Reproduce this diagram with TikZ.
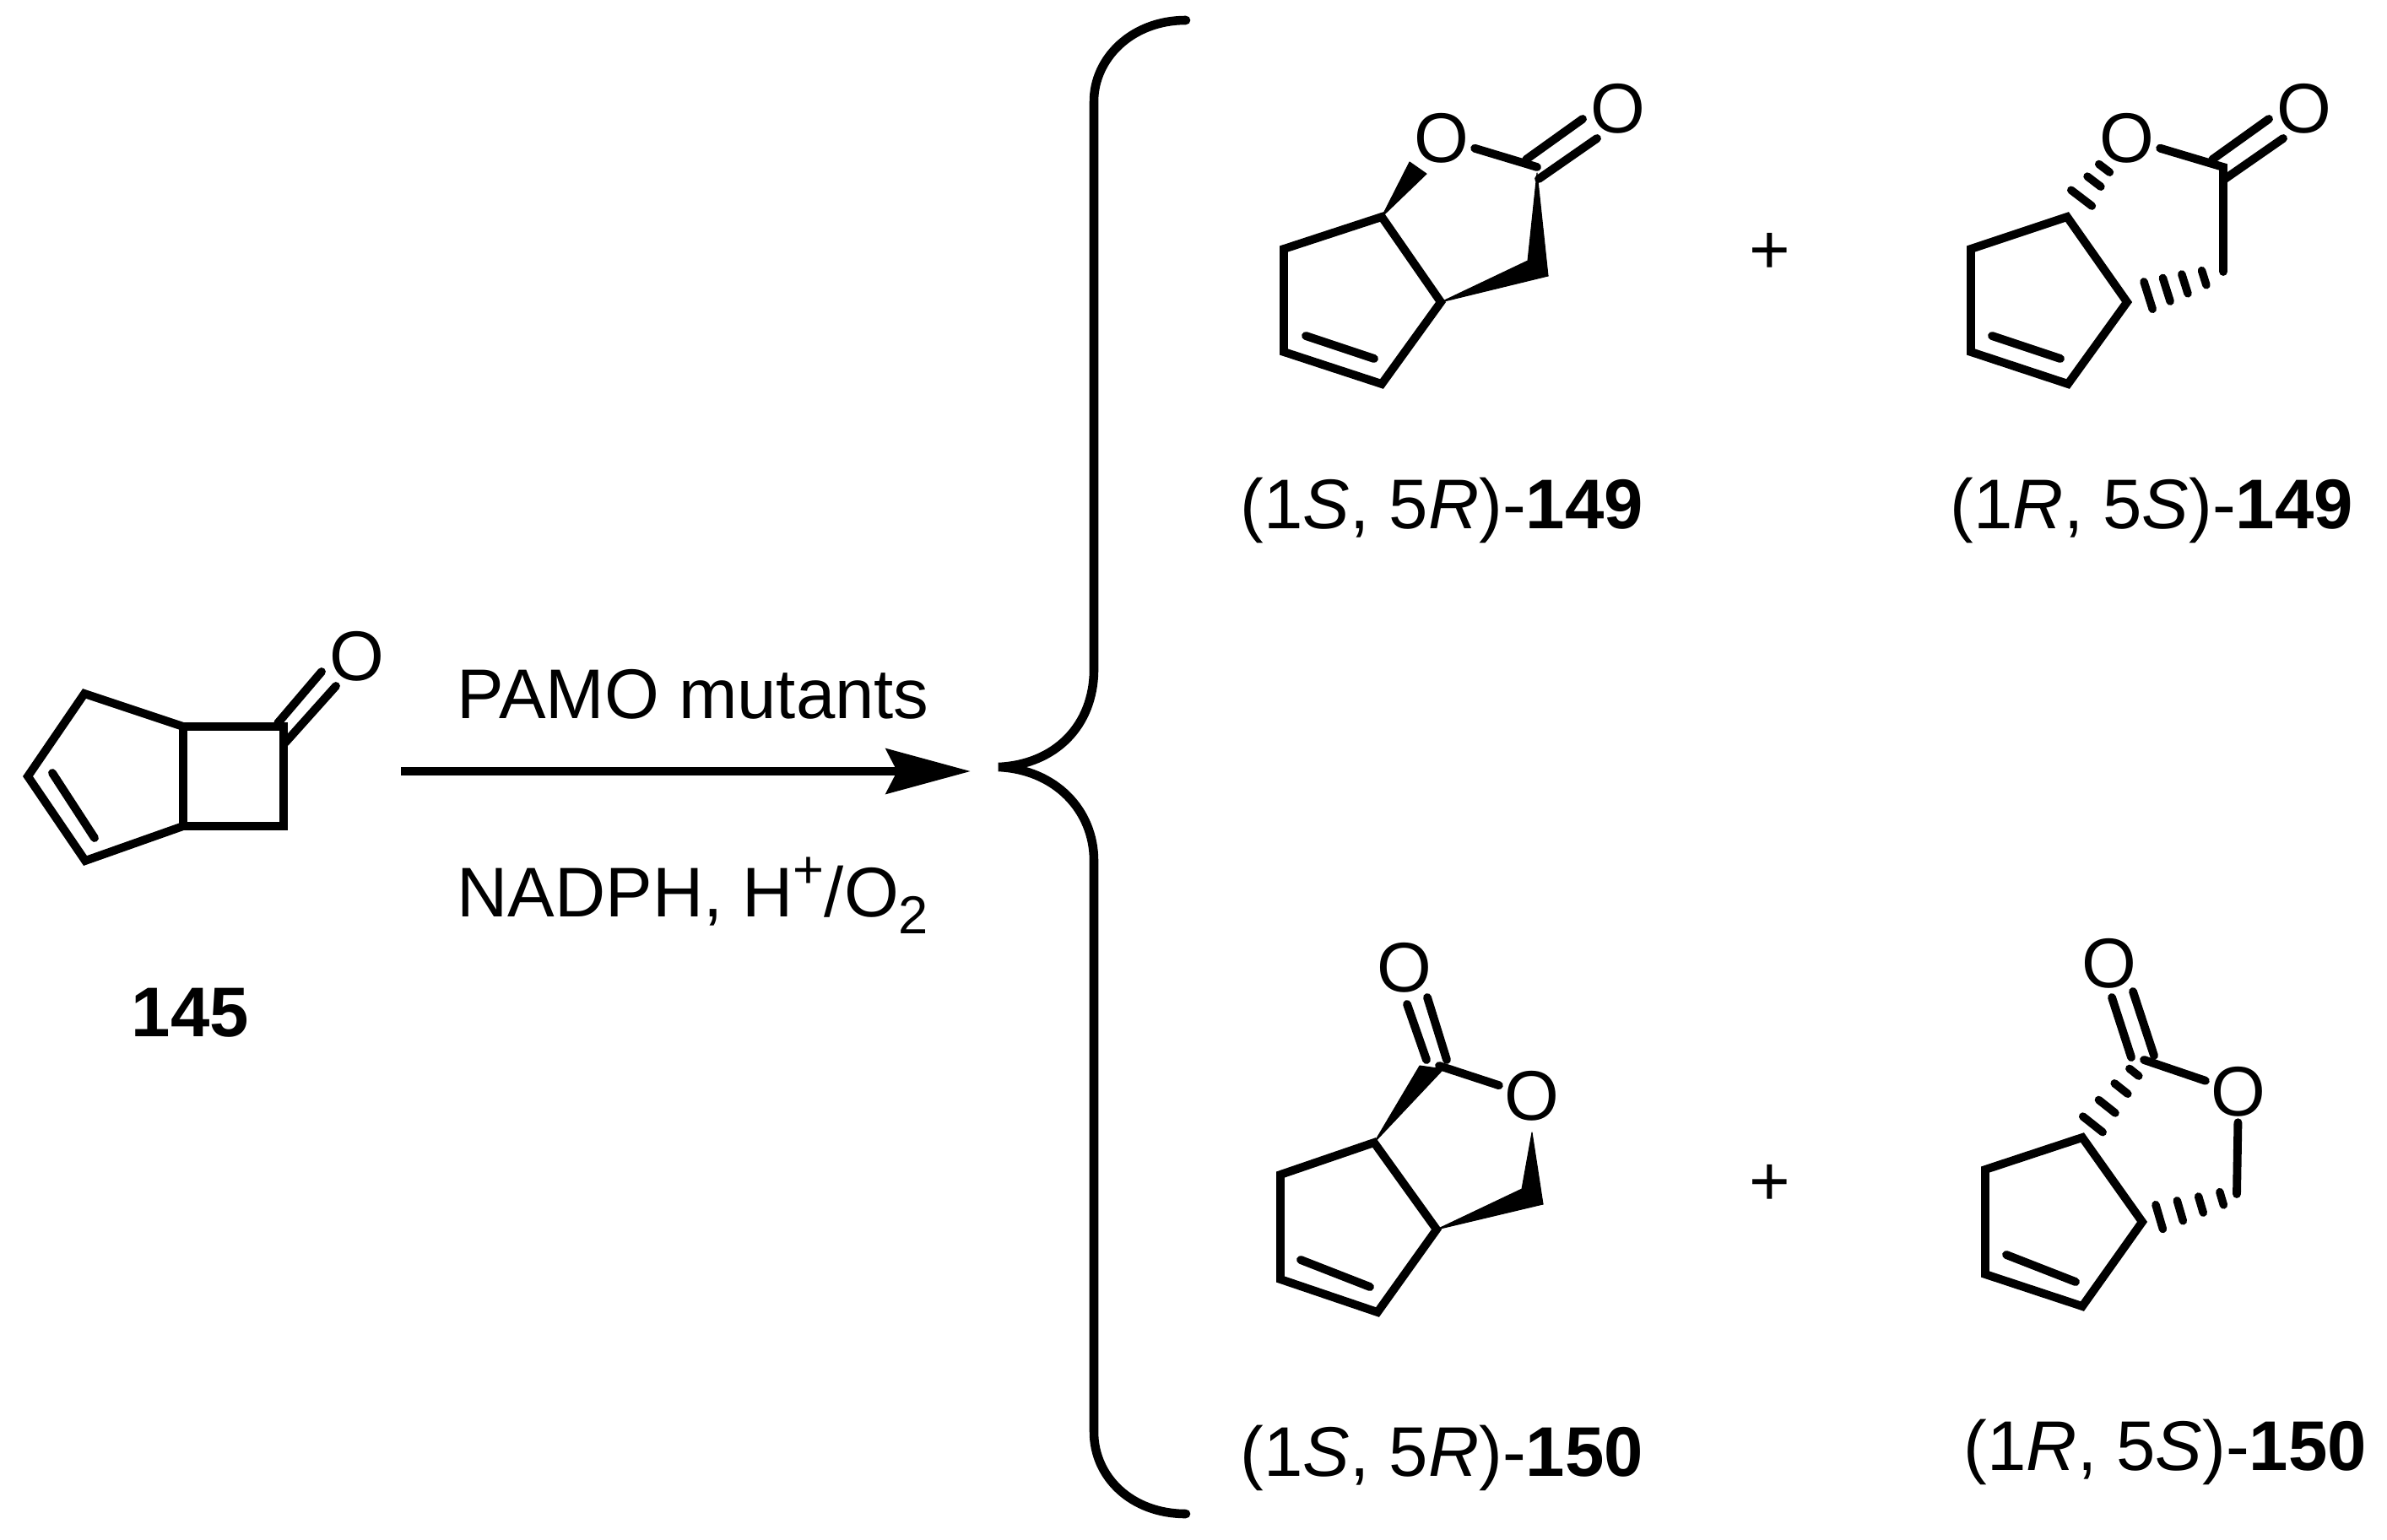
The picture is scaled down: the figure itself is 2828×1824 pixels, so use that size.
\documentclass[tikz,border=0pt]{standalone}
\usepackage{fontspec}
\setmainfont{Liberation Sans}
\usetikzlibrary{arrows.meta,calc}

\newcommand{\hashbond}[3]{% wide end, narrow end, list of t/half width
  \foreach \t/\w in {#3}
    \draw[hash] ($(#1)!\t!(#2)!\w cm!90:(#2)$) -- ($(#1)!\t!(#2)!\w cm!-90:(#2)$);
}

\begin{document}
\begin{tikzpicture}[x=0.01cm, y=-0.01cm,
                    bond/.style={line width=2.8pt, line join=miter, line cap=round},
                    hash/.style={line width=2.7pt, line cap=round},
                    wedge/.style={fill=black, draw=black, line width=0.3pt, line join=round},
                    atom/.style={inner sep=0.06cm, font=\fontsize{23.7}{26}\selectfont},
                    txt/.style={inner sep=0pt, anchor=base west, font=\fontsize{23.7}{26}\selectfont}]

  \useasboundingbox (0,0) rectangle (2828,1824);

  % starting ketone
  \coordinate (k1) at (100,822);
  \coordinate (k2) at (217,861);
  \coordinate (k3) at (336,861);
  \coordinate (k4) at (336,979);
  \coordinate (k5) at (217,979);
  \coordinate (k6) at (101,1020);
  \coordinate (k7) at (33,920);
  \coordinate (k8) at (62,916);
  \coordinate (k9) at (112,993);
  \coordinate (k10) at (329,857);
  \coordinate (k11) at (381,796);
  \coordinate (k12) at (338,880);
  \coordinate (k13) at (398,813);
  \node[atom] (ko) at (423,778) {O};
  \draw[bond] (k2) -- (k3) -- (k4) -- (k5) -- cycle;
  \draw[bond] (k2) -- (k1) -- (k7) -- (k6) -- (k5);
  \draw[bond] (k8) -- (k9);
  \draw[bond] (k10) -- (k11);
  \draw[bond] (k12) -- (k13);
  \node[txt, font=\fontsize{23.7}{26}\selectfont\bfseries] (n145) at (155,1228) {145};

  % reaction arrow
  \coordinate (r1) at (475,914);
  \coordinate (r2) at (1150,914);
  \draw[line width=3.1pt, -{Stealth[length=1cm, width=0.53cm, inset=0.13cm]}] (r1) -- (r2);
  \node[txt] (pamo) at (541,851) {PAMO mutants};
  \node[txt] (nadph) at (541,1086) {NADPH, H\raisebox{0.4em}{\fontsize{18}{18}\selectfont +}/O\raisebox{-0.25em}{\fontsize{18}{18}\selectfont 2}};

  % brace
  \coordinate (b1) at (1405,24);
  \coordinate (b2) at (1296,120);
  \coordinate (b3) at (1296,793);
  \coordinate (b4) at (1183,909);
  \coordinate (b5) at (1296,1020);
  \coordinate (b6) at (1296,1697);
  \coordinate (b7) at (1405,1794);
  \draw[line width=3pt, line cap=round]
    (b1) .. controls (1340,24) and (1296,70) .. (b2) -- (b3)
         .. controls (1296,860) and (1250,906) .. (b4)
         .. controls (1250,912) and (1296,960) .. (b5) -- (b6)
         .. controls (1296,1750) and (1340,1794) .. (b7);

  % (1S,5R)-149
  \coordinate (a1) at (1637,257);
  \coordinate (a2) at (1521,295);
  \coordinate (a3) at (1521,417);
  \coordinate (a4) at (1637,455);
  \coordinate (a5) at (1707,358);
  \coordinate (a6) at (1821,198);
  \coordinate (a7) at (1547,398);
  \coordinate (a8) at (1628,425);
  \node[atom] (ao) at (1708,164) {O};
  \node[atom] (ac) at (1917,129) {O};
  \draw[bond] (a1) -- (a2) -- (a3) -- (a4) -- (a5) -- cycle;
  \draw[bond] (a7) -- (a8);
  \draw[bond] (ao) -- (a6);
  \draw[bond] (1808,189) -- (1875,141);
  \draw[bond] (1823,212) -- (1892,164);
  \fill[wedge] (a1) -- (1670,192) -- (1690,206) -- cycle;
  \fill[wedge] (a5) -- (1810,309) -- (1834,327) -- cycle;
  \fill[wedge] (1821,205) -- (1810,309) -- (1834,327) -- cycle;

  % (1R,5S)-149
  \coordinate (c1) at (2449,257);
  \coordinate (c2) at (2335,295);
  \coordinate (c3) at (2335,417);
  \coordinate (c4) at (2450,455);
  \coordinate (c5) at (2520,358);
  \coordinate (c6) at (2634,198);
  \coordinate (c7) at (2634,322);
  \coordinate (c8) at (2360,398);
  \coordinate (c9) at (2441,425);
  \node[atom] (co) at (2520,164) {O};
  \node[atom] (cc) at (2730,129) {O};
  \draw[bond] (c1) -- (c2) -- (c3) -- (c4) -- (c5) -- cycle;
  \draw[bond] (c8) -- (c9);
  \draw[bond] (co) -- (c6) -- (c7);
  \draw[bond] (2621,189) -- (2688,141);
  \draw[bond] (2636,212) -- (2705,164);
  \hashbond{c1}{co}{0.24/0.155, 0.45/0.10, 0.62/0.08}
  \hashbond{c5}{c7}{0.22/0.17, 0.41/0.145, 0.60/0.12, 0.80/0.09}

  % (1S,5R)-150
  \coordinate (d1) at (1628,1354);
  \coordinate (d2) at (1517,1392);
  \coordinate (d3) at (1517,1516);
  \coordinate (d4) at (1632,1555);
  \coordinate (d5) at (1702,1457);
  \coordinate (d6) at (1705,1263);
  \coordinate (d7) at (1541,1493);
  \coordinate (d8) at (1623,1525);
  \node[atom] (do) at (1815,1299) {O};
  \node[atom] (dc) at (1664,1147) {O};
  \draw[bond] (d1) -- (d2) -- (d3) -- (d4) -- (d5) -- cycle;
  \draw[bond] (d7) -- (d8);
  \draw[bond] (do) -- (d6);
  \draw[bond] (1667,1190) -- (1690,1256);
  \draw[bond] (1691,1182) -- (1714,1256);
  \fill[wedge] (d1) -- (1682,1263) -- (1710,1267) -- cycle;
  \fill[wedge] (d5) -- (1803,1409) -- (1828,1427) -- cycle;
  \fill[wedge] (1815,1342) -- (1803,1409) -- (1828,1427) -- cycle;

  % (1R,5S)-150
  \coordinate (e1) at (2467,1348);
  \coordinate (e2) at (2352,1386);
  \coordinate (e3) at (2352,1510);
  \coordinate (e4) at (2467,1548);
  \coordinate (e5) at (2538,1448);
  \coordinate (e6) at (2540,1256);
  \coordinate (e7) at (2650,1415);
  \coordinate (e8) at (2377,1487);
  \coordinate (e9) at (2459,1519);
  \node[atom] (eo) at (2652,1294) {O};
  \node[atom] (ec) at (2499,1142) {O};
  \draw[bond] (e1) -- (e2) -- (e3) -- (e4) -- (e5) -- cycle;
  \draw[bond] (e8) -- (e9);
  \draw[bond] (eo) -- (e6);
  \draw[bond] (eo) -- (e7);
  \draw[bond] (2502,1182) -- (2525,1253);
  \draw[bond] (2527,1175) -- (2552,1251);
  \hashbond{e1}{e6}{0.17/0.15, 0.40/0.125, 0.63/0.10, 0.84/0.07}
  \hashbond{e5}{e7}{0.18/0.15, 0.40/0.125, 0.62/0.10, 0.84/0.08}

  % pluses
  \node[atom] (p1) at (2097,300) {+};
  \node[atom] (p2) at (2097,1404) {+};

  % names
  \node[txt] (la) at (1469,626) {(1\textit{S}, 5\textit{R})-\textbf{149}};
  \node[txt] (lc) at (2310,626) {(1\textit{R}, 5\textit{S})-\textbf{149}};
  \node[txt] (ld) at (1469,1749) {(1\textit{S}, 5\textit{R})-\textbf{150}};
  \node[txt] (le) at (2326,1742) {(1\textit{R}, 5\textit{S})-\textbf{150}};

\end{tikzpicture}
\end{document}
